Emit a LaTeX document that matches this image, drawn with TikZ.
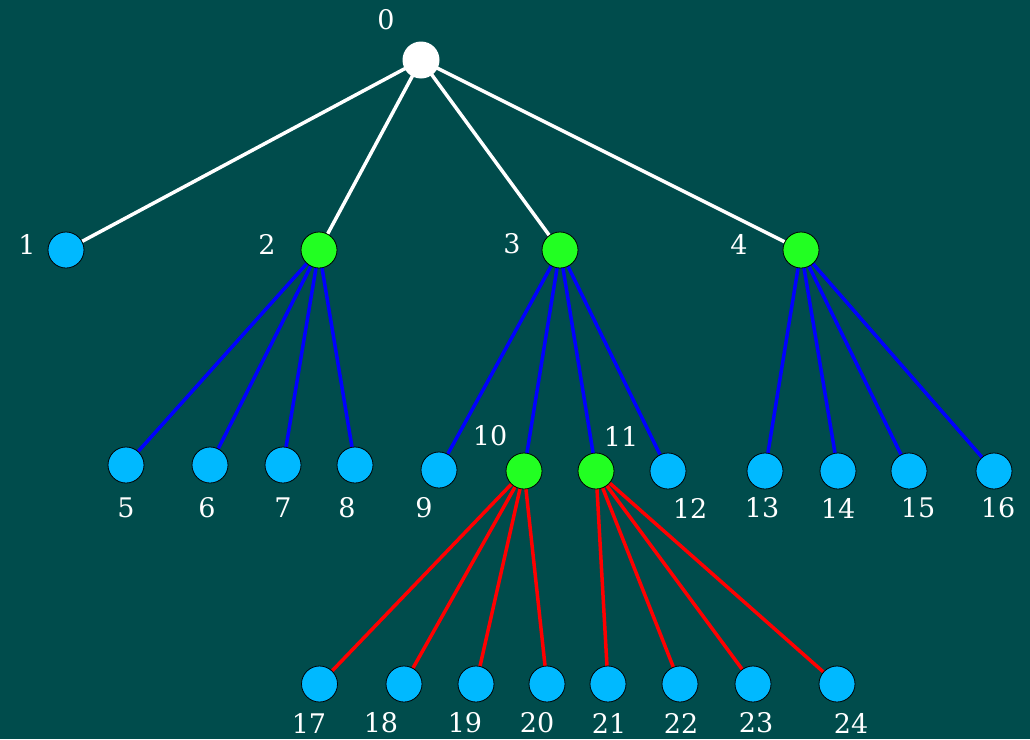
\documentclass[tikz,border=0pt]{standalone}
\usepackage{fontspec}
\setmainfont{DejaVu Serif}
\usetikzlibrary{backgrounds}
\definecolor{bgteal}{RGB}{0,76,76}
\definecolor{leafcyan}{RGB}{0,185,255}
\definecolor{midgreen}{RGB}{34,255,34}
\definecolor{edgeblue}{RGB}{0,0,255}
\definecolor{edgered}{RGB}{255,0,0}
\tikzset{
  leaf/.style={circle,fill=leafcyan,draw=black,line width=0.8pt,minimum size=36pt,inner sep=0pt},
  inner/.style={circle,fill=midgreen,draw=black,line width=0.8pt,minimum size=36pt,inner sep=0pt},
  rootnode/.style={circle,fill=white,minimum size=37pt,inner sep=0pt},
  lbl/.style={text=white,font=\fontsize{27}{27}\selectfont,inner sep=0pt},
  ew/.style={draw=white,line width=3.5pt},
  eb/.style={draw=edgeblue,line width=3.5pt},
  er/.style={draw=edgered,line width=3.5pt}
}
\begin{document}
\begin{tikzpicture}[x=1pt,y=-1pt]
% nodes
\node[rootnode] (n0) at (421,60) {};
\node[leaf]  (n1) at (66,250) {};
\node[inner] (n2) at (319,250) {};
\node[inner] (n3) at (560,250) {};
\node[inner] (n4) at (801,250) {};
\node[leaf] (n5) at (126,465) {};
\node[leaf] (n6) at (210,465) {};
\node[leaf] (n7) at (283,465) {};
\node[leaf] (n8) at (355,465) {};
\node[leaf] (n9) at (439,470) {};
\node[inner] (n10) at (524,471) {};
\node[inner] (n11) at (596,471) {};
\node[leaf] (n12) at (668,471) {};
\node[leaf] (n13) at (765,471) {};
\node[leaf] (n14) at (838,471) {};
\node[leaf] (n15) at (909,471) {};
\node[leaf] (n16) at (994,471) {};
\node[leaf] (n17) at (319.5,684) {};
\node[leaf] (n18) at (404,684) {};
\node[leaf] (n19) at (476,684) {};
\node[leaf] (n20) at (547,684) {};
\node[leaf] (n21) at (608,684) {};
\node[leaf] (n22) at (680,684) {};
\node[leaf] (n23) at (753,684) {};
\node[leaf] (n24) at (837,684) {};
% labels
\node[lbl] (l0) at (386,20) {0};
\node[lbl] (l1) at (27,244) {1};
\node[lbl] (l2) at (267,244) {2};
\node[lbl] (l3) at (512,244) {3};
\node[lbl] (l4) at (739,244) {4};
\node[lbl] (l5) at (126,508) {5};
\node[lbl] (l6) at (207,508) {6};
\node[lbl] (l7) at (283,508) {7};
\node[lbl] (l8) at (347,508) {8};
\node[lbl] (l9) at (424,508) {9};
\node[lbl] (l10) at (490,436) {10};
\node[lbl] (l11) at (621,436) {11};
\node[lbl] (l12) at (690,508) {12};
\node[lbl] (l13) at (762,508) {13};
\node[lbl] (l14) at (838,508) {14};
\node[lbl] (l15) at (918,508) {15};
\node[lbl] (l16) at (998,508) {16};
\node[lbl] (l17) at (309,723) {17};
\node[lbl] (l18) at (381,723) {18};
\node[lbl] (l19) at (465,723) {19};
\node[lbl] (l20) at (537,723) {20};
\node[lbl] (l21) at (609,723) {21};
\node[lbl] (l22) at (681,723) {22};
\node[lbl] (l23) at (756,723) {23};
\node[lbl] (l24) at (851,723) {24};
% edges behind nodes
\begin{scope}[on background layer]
\fill[bgteal] (0,0) rectangle (1030,739);
\foreach \c in {1,2,3,4} \draw[ew] (n0.center) -- (n\c.center);
\foreach \c in {5,6,7,8} \draw[eb] (n2.center) -- (n\c.center);
\foreach \c in {9,10,11,12} \draw[eb] (n3.center) -- (n\c.center);
\foreach \c in {13,14,15,16} \draw[eb] (n4.center) -- (n\c.center);
\foreach \c in {17,18,19,20} \draw[er] (n10.center) -- (n\c.center);
\foreach \c in {21,22,23,24} \draw[er] (n11.center) -- (n\c.center);
\end{scope}
\useasboundingbox (0,0) rectangle (1030,739);
\end{tikzpicture}
\end{document}
